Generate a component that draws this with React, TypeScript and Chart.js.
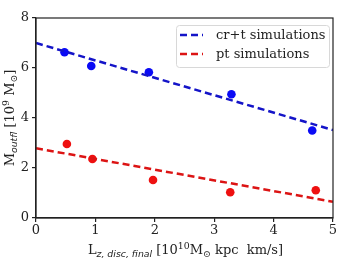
import React, { useEffect, useRef } from "react";
import { Chart, registerables } from "chart.js";

Chart.register(...registerables);

const xCrt = [0.48, 0.93, 1.9, 3.29, 4.65];
const yCrt = [6.63, 6.08, 5.83, 4.95, 3.5];
const xPt = [0.52, 0.95, 1.97, 3.27, 4.71];
const yPt = [2.96, 2.36, 1.52, 1.03, 1.11];
const fitX = [0, 5];
const fitCrt = [7.0, 3.52];
const fitPt = [2.79, 0.65];
const legendLabels = ["cr+t simulations", "pt simulations"];
const xTicks = [0, 1, 2, 3, 4, 5];
const yTicks = [0, 2, 4, 6, 8];

const SERIF = "'DejaVu Serif', serif";
const SANS = "'DejaVu Sans', sans-serif";

type Seg = { t: string; k?: "sub" | "sup"; it?: boolean };

function drawMath(ctx: CanvasRenderingContext2D, segs: Seg[], x: number, y: number, size: number) {
  let cx = x;
  for (const s of segs) {
    const sz = s.k ? size * 0.72 : size;
    const fam = s.it ? SANS : SERIF;
    ctx.font = `${s.it ? "italic " : ""}${sz}px ${fam}`;
    const dy = s.k === "sub" ? size * 0.25 : s.k === "sup" ? -size * 0.4 : 0;
    ctx.fillText(s.t, cx, y + dy);
    cx += ctx.measureText(s.t).width;
  }
  return cx - x;
}

function measureMath(ctx: CanvasRenderingContext2D, segs: Seg[], size: number) {
  let w = 0;
  for (const s of segs) {
    const sz = s.k ? size * 0.72 : size;
    ctx.font = `${s.it ? "italic " : ""}${sz}px ${s.it ? SANS : SERIF}`;
    w += ctx.measureText(s.t).width;
  }
  return w;
}

const xTitle: Seg[] = [
  { t: "L" },
  { t: "z, disc, final", k: "sub", it: true },
  { t: " [10" },
  { t: "10", k: "sup" },
  { t: "M" },
  { t: "⊙", k: "sub" },
  { t: " kpc  km/s]" },
];
const yTitle: Seg[] = [
  { t: "M" },
  { t: "outfl", k: "sub", it: true },
  { t: " [10" },
  { t: "9", k: "sup" },
  { t: " M" },
  { t: "⊙", k: "sub" },
  { t: "]" },
];

const decor = {
  id: "decor",
  afterDraw(chart: any) {
    const ctx = chart.ctx as CanvasRenderingContext2D;
    const a = chart.chartArea;
    ctx.save();
    // frame
    ctx.strokeStyle = "#222";
    ctx.lineWidth = 1.2;
    ctx.strokeRect(a.left, a.top, a.right - a.left, a.bottom - a.top);
    // titles
    ctx.fillStyle = "#222";
    ctx.textBaseline = "alphabetic";
    ctx.textAlign = "left";
    const size = 13;
    const wx = measureMath(ctx, xTitle, size);
    drawMath(ctx, xTitle, (a.left + a.right) / 2 - wx / 2 + 1, 254, size);
    const wy = measureMath(ctx, yTitle, size);
    ctx.save();
    ctx.translate(14, (a.top + a.bottom) / 2);
    ctx.rotate(-Math.PI / 2);
    drawMath(ctx, yTitle, -wy / 2, 0, size);
    ctx.restore();
    // legend
    const lx = 176, ly = 25, lw = 153, lh = 42;
    ctx.beginPath();
    (ctx as any).roundRect(lx + 0.5, ly + 0.5, lw, lh, 3);
    ctx.fillStyle = "rgba(255,255,255,0.85)";
    ctx.fill();
    ctx.strokeStyle = "#d8d8d8";
    ctx.lineWidth = 1;
    ctx.stroke();
    const cols = ["#1414c8", "#dc1414"];
    legendLabels.forEach((lab, i) => {
      const yy = 35 + i * 19;
      ctx.beginPath();
      ctx.setLineDash([7, 4]);
      ctx.lineWidth = 2.5;
      ctx.strokeStyle = cols[i];
      ctx.moveTo(180, yy);
      ctx.lineTo(203, yy);
      ctx.stroke();
      ctx.setLineDash([]);
      ctx.fillStyle = "#222";
      ctx.font = `13px ${SERIF}`;
      ctx.textBaseline = "middle";
      ctx.fillText(lab, 216, yy + 0.5);
    });
    ctx.restore();
  },
};

export default function App() {
  const ref = useRef<HTMLCanvasElement>(null);
  useEffect(() => {
    document.body.style.margin = "0";
    const pts = (xs: number[], ys: number[]) => xs.map((x, i) => ({ x, y: ys[i] }));
    const chart = new Chart(ref.current!, {
      type: "scatter",
      data: {
        datasets: [
          {
            data: pts(fitX, fitCrt),
            showLine: true,
            borderColor: "#1414c8",
            borderWidth: 2.5,
            borderDash: [7, 4],
            pointRadius: 0,
          },
          {
            data: pts(fitX, fitPt),
            showLine: true,
            borderColor: "#dc1414",
            borderWidth: 2.5,
            borderDash: [7, 4],
            pointRadius: 0,
          },
          {
            data: pts(xCrt, yCrt),
            backgroundColor: "#0a0af5",
            borderWidth: 0,
            pointRadius: 4.3,
          },
          {
            data: pts(xPt, yPt),
            backgroundColor: "#ee1010",
            borderWidth: 0,
            pointRadius: 4.3,
          },
        ],
      },
      options: {
        animation: false,
        responsive: false,
        layout: { padding: { left: 0, top: 18, right: 19, bottom: 0 } },
        plugins: { legend: { display: false }, tooltip: { enabled: false } },
        scales: {
          x: {
            type: "linear",
            min: 0,
            max: 5,
            afterBuildTicks: (s: any) => {
              s.ticks = xTicks.map((v) => ({ value: v }));
            },
            afterFit: (s: any) => {
              s.height = 56;
            },
            grid: { drawOnChartArea: false, drawTicks: true, tickLength: 4, color: "#222", lineWidth: 1.2 },
            border: { display: true, color: "#222", width: 1.2 },
            ticks: { color: "#222", font: { family: SERIF, size: 13 }, padding: 1, maxRotation: 0 },
          },
          y: {
            type: "linear",
            min: 0,
            max: 8,
            afterBuildTicks: (s: any) => {
              s.ticks = yTicks.map((v) => ({ value: v }));
            },
            afterFit: (s: any) => {
              s.width = 36;
            },
            grid: { drawOnChartArea: false, drawTicks: true, tickLength: 4, color: "#222", lineWidth: 1.2 },
            border: { display: true, color: "#222", width: 1.2 },
            ticks: { color: "#222", font: { family: SERIF, size: 13 }, padding: 3 },
          },
        },
      },
      plugins: [decor],
    } as any);
    return () => chart.destroy();
  }, []);
  return (
    <div style={{ width: 352, height: 274 }}>
      <canvas ref={ref} width={352} height={274} />
    </div>
  );
}
